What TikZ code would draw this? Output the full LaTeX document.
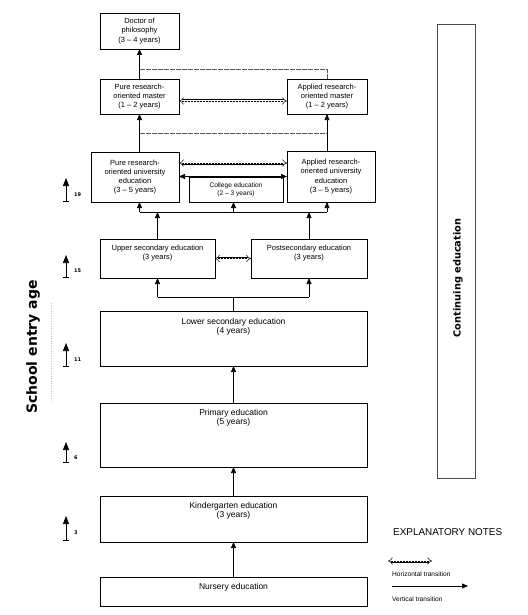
\documentclass[tikz,border=0pt]{standalone}
\usepackage{fontspec}
\setmainfont{Liberation Sans}
\newfontfamily\djv{DejaVu Sans}
\usetikzlibrary{arrows.meta}
\begin{document}
\begin{tikzpicture}[x=1pt,y=-1pt,
  box/.style={draw, line width=0.8pt, inner sep=0pt, outer sep=0pt, align=center},
  fS/.style={font=\fontsize{6.6}{8}\selectfont},
  fM/.style={font=\fontsize{7.5}{9.2}\selectfont},
  fL/.style={font=\fontsize{8.5}{9.2}\selectfont},
  txt/.style={inner sep=0pt, align=center},
  arr/.style={line width=0.6pt, -{Triangle[width=5pt,length=6pt]}},
  darr/.style={line width=0.6pt, {Triangle[width=5pt,length=6pt]}-{Triangle[width=5pt,length=6pt]}},
  hol/.style={line width=0.5pt, double, double distance=2pt, {Implies[scale=1.6]}-{Implies[scale=1.6]},
    postaction={draw, -, line width=0.9pt, dash pattern=on 2pt off 1pt, shorten <=3pt, shorten >=3pt}},
  thin/.style={line width=0.6pt, gray!70!black, dash pattern=on 5pt off 1pt},
  plain/.style={line width=0.6pt},
  age/.style={line width=0.6pt, {Bar[width=6pt]}-{Triangle[width=6pt,length=8pt]}},
  agelbl/.style={inner sep=0pt, anchor=west, font=\djv\bfseries\fontsize{5}{6}\selectfont},
]
\useasboundingbox (0,0) rectangle (527,615);

% boxes
\node[box, fM, minimum width=79, minimum height=36] (phd) at (139.5,31) {Doctor of\\philosophy\\(3 -- 4 years)};
\node[box, fM, minimum width=79, minimum height=35] (pmaster) at (139.5,96.5) {Pure research-\\oriented master\\(1 -- 2 years)};
\node[box, fM, minimum width=80, minimum height=35] (amaster) at (327,96.5) {Applied research-\\oriented master\\(1 -- 2 years)};
\node[box, fM, minimum width=88, minimum height=50] (puniv) at (135,177) {Pure research-\\oriented university\\education\\(3 -- 5 years)};
\node[box, fM, minimum width=88, minimum height=51] (auniv) at (331,176.5) {Applied research-\\oriented university\\education\\(3 -- 5 years)};
\node[box, fS, minimum width=94, minimum height=25] (college) at (236,189.5) {College education\\(2 -- 3 years)};
\node[box, minimum width=115, minimum height=39] (upper) at (157.5,258.5) {};
\node[box, minimum width=116, minimum height=39] (post) at (309,258.5) {};
\node[box, minimum width=267, minimum height=55] (lower) at (233.5,338.5) {};
\node[box, minimum width=267, minimum height=64] (primary) at (233.5,435) {};
\node[box, minimum width=267, minimum height=46] (kinder) at (233.5,519) {};
\node[box, minimum width=267, minimum height=29] (nursery) at (233.5,591.5) {};
\node[box, line width=0.7pt, draw=gray!60!black, minimum width=38, minimum height=454] (cont) at (456,251) {};

% texts of the large boxes
\node[txt, fM, anchor=north] (uppert) at ([yshift=-6pt]upper.north) {Upper secondary education\\(3 years)};
\node[txt, fM, anchor=north] (postt) at ([yshift=-6pt]post.north) {Postsecondary education\\(3 years)};
\node[txt, fL, anchor=north] (lowert) at ([yshift=-7pt]lower.north) {Lower secondary education\\(4 years)};
\node[txt, fL, anchor=north] (primaryt) at ([yshift=-6pt]primary.north) {Primary education\\(5 years)};
\node[txt, fL, anchor=north] (kindert) at ([yshift=-6pt]kinder.north) {Kindergarten education\\(3 years)};
\node[txt, fL, anchor=north] (nurseryt) at ([yshift=-6pt]nursery.north) {Nursery education};
\node[txt, rotate=90, font=\djv\bfseries\fontsize{9.8}{11}\selectfont] (contt) at (458,278) {Continuing education};

% junction coordinates
\coordinate (j1) at (139.5,69);
\coordinate (j2) at (139.5,133);
\coordinate (j3) at (327,133);
\coordinate (j4) at (139.5,212);
\coordinate (j5) at (327,212);
\coordinate (jc) at (233.5,212);
\coordinate (k1) at (157.5,297);
\coordinate (k2) at (309,297);
\coordinate (kc) at (233.5,297);
\coordinate (ym) at (0,101);
\coordinate (yu1) at (0,163);
\coordinate (yu2) at (0,176.5);

% top connectors
\draw[arr] (pmaster.north) -- (phd.south);
\draw[thin] (amaster.north) |- (j1);
\draw[hol] (pmaster.east |- ym) -- (amaster.west |- ym);
\draw[arr] (pmaster.south |- puniv.north) -- (pmaster.south);
\draw[arr] (amaster.south |- auniv.north) -- (amaster.south);
\draw[thin] (j2) -- (j3);

% university level
\draw[hol] (puniv.east |- yu1) -- (auniv.west |- yu1);
\draw[darr] (puniv.east |- yu2) -- (auniv.west |- yu2);
\draw[plain] (j4) -- (j5);
\draw[arr] (j4) -- (j4 |- puniv.south);
\draw[arr] (jc) -- (jc |- college.south);
\draw[arr] (j5) -- (j5 |- auniv.south);
\draw[arr] (upper.north) -- (upper.north |- j4);
\draw[arr] (post.north) -- (post.north |- j4);

% secondary level
\draw[hol] (upper.east) -- (post.west);
\draw[plain] (lower.north) -- (kc);
\draw[plain] (k1) -- (k2);
\draw[arr] (k1) -- (upper.south);
\draw[arr] (k2) -- (post.south);
\draw[arr] (primary.north) -- (lower.south);
\draw[arr] (kinder.north) -- (primary.south);
\draw[arr] (nursery.north) -- (kinder.south);

% ages
\coordinate (a19b) at (66,202); \coordinate (a19t) at (66,178);
\coordinate (a15b) at (66,278); \coordinate (a15t) at (66,255);
\coordinate (a11b) at (66,367); \coordinate (a11t) at (66,343);
\coordinate (a6b) at (66,463); \coordinate (a6t) at (66,442);
\coordinate (a3b) at (66,541); \coordinate (a3t) at (66,516);
\draw[age] (a19b) -- (a19t);
\draw[age] (a15b) -- (a15t);
\draw[age] (a11b) -- (a11t);
\draw[age] (a6b) -- (a6t);
\draw[age] (a3b) -- (a3t);
\node[agelbl] (l19) at (74,195) {19};
\node[agelbl] (l15) at (74,271) {15};
\node[agelbl] (l11) at (74,360) {11};
\node[agelbl] (l6) at (74,458) {6};
\node[agelbl] (l3) at (74,533) {3};
\node[txt, rotate=90, font=\djv\bfseries\fontsize{14}{16}\selectfont] (sea) at (33,347) {School entry age};
\coordinate (d1) at (51,303);
\coordinate (d2) at (51,403);
\draw[gray!50, dotted, line width=0.5pt] (d1) -- (d2);

% explanatory notes
\node[txt, anchor=west, font=\fontsize{9.9}{11}\selectfont] (notes) at (393,532) {EXPLANATORY NOTES};
\coordinate (h1) at (388,561);
\coordinate (h2) at (432,561);
\draw[hol] (h1) -- (h2);
\node[txt, anchor=west, font=\fontsize{6.6}{8}\selectfont] (htxt) at (392,574) {Horizontal transition};
\coordinate (v1) at (392,586);
\coordinate (v2) at (468,586);
\draw[arr] (v1) -- (v2);
\node[txt, anchor=west, font=\fontsize{6.6}{8}\selectfont] (vtxt) at (392,599) {Vertical transition};
\end{tikzpicture}
\end{document}
